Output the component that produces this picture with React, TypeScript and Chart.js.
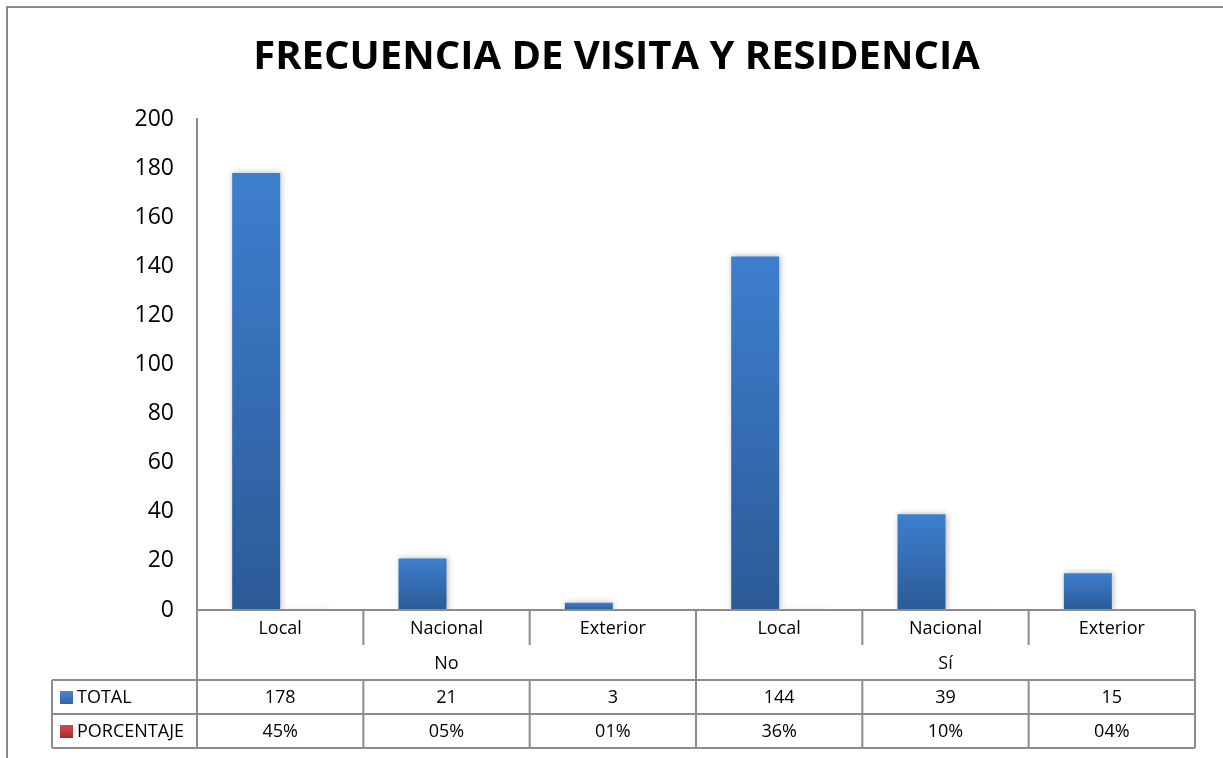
import React, { useEffect, useRef } from "react";
import { Chart, registerables } from "chart.js";

Chart.register(...registerables);

const TITLE = "FRECUENCIA DE VISITA Y RESIDENCIA";
const subCategories = ["Local", "Nacional", "Exterior", "Local", "Nacional", "Exterior"];
const groupLabels = ["No", "Sí"];
const groupSizes = [3, 3];
const totalValues = [178, 21, 3, 144, 39, 15];
const percentValues = [0.45, 0.05, 0.01, 0.36, 0.1, 0.04];
const percentLabels = ["45%", "05%", "01%", "36%", "10%", "04%"];
const seriesNames = ["TOTAL", "PORCENTAJE"];
const yTicks = { min: 0, max: 200, step: 20 };

const FONT = "'Open Sans', 'Noto Sans', sans-serif";
const LINE = "#8c8c8c";

function gradientFill(top: string, bottom: string) {
  return (ctx: any) => {
    const chart = ctx.chart;
    const { chartArea, scales } = chart;
    if (!chartArea || ctx.type !== "data" || !scales.y) return top;
    const v = ctx.raw as number;
    const yTop = scales.y.getPixelForValue(v);
    const yBot = scales.y.getPixelForValue(0);
    if (!isFinite(yTop) || !isFinite(yBot) || Math.abs(yBot - yTop) < 3) return bottom;
    const g = chart.ctx.createLinearGradient(0, yTop, 0, yBot);
    g.addColorStop(0, top);
    g.addColorStop(1, bottom);
    return g;
  };
}

const shadowPlugin = {
  id: "barShadow",
  beforeDatasetsDraw(chart: any) {
    const c = chart.ctx;
    c.save();
    c.shadowColor = "rgba(0,0,0,0.28)";
    c.shadowBlur = 6;
    c.shadowOffsetX = 1;
    c.shadowOffsetY = 0;
  },
  afterDatasetsDraw(chart: any) {
    chart.ctx.restore();
  },
};

const tablePlugin = {
  id: "dataTable",
  afterDraw(chart: any) {
    const c = chart.ctx as CanvasRenderingContext2D;
    const area = chart.chartArea;
    const n = subCategories.length;
    const left = area.left;
    const right = area.right;
    const cw = (right - left) / n;
    const y0 = area.bottom;
    const r1 = y0 + 35;
    const r2 = r1 + 35;
    const r3 = r2 + 34;
    const r4 = r3 + 34;
    const legendLeft = 52;

    c.save();
    // outer frame
    c.strokeStyle = "#8a8a8a";
    c.lineWidth = 2;
    c.beginPath();
    c.moveTo(7, chart.height);
    c.lineTo(7, 7);
    c.lineTo(chart.width, 7);
    c.stroke();

    // title
    c.fillStyle = "#000";
    c.textAlign = "center";
    c.textBaseline = "alphabetic";
    let size = 38;
    c.font = `bold ${size}px ${FONT}`;
    const w = c.measureText(TITLE).width;
    size = Math.min(40, (size * 748) / w);
    c.font = `bold ${size}px ${FONT}`;
    c.fillText(TITLE, 616.5, 69);

    // table lines
    c.strokeStyle = LINE;
    c.lineWidth = 2;
    c.beginPath();
    c.moveTo(left, y0);
    c.lineTo(right, y0);
    [r2, r3, r4].forEach((yy) => {
      c.moveTo(legendLeft, yy);
      c.lineTo(right, yy);
    });
    c.moveTo(legendLeft, r2);
    c.lineTo(legendLeft, r4);
    let idx = 0;
    const groupEdges = new Set<number>([0]);
    groupSizes.forEach((s) => {
      idx += s;
      groupEdges.add(idx);
    });
    for (let k = 0; k <= n; k++) {
      const x = left + k * cw;
      if (groupEdges.has(k)) {
        c.moveTo(x, k === 0 ? area.top : y0);
        c.lineTo(x, r4);
      } else {
        c.moveTo(x, y0);
        c.lineTo(x, r1);
        c.moveTo(x, r2);
        c.lineTo(x, r4);
      }
    }
    c.stroke();

    // texts
    c.fillStyle = "#000";
    c.font = `18px ${FONT}`;
    c.textAlign = "center";
    c.textBaseline = "middle";
    for (let i = 0; i < n; i++) {
      const cx = left + (i + 0.5) * cw;
      c.fillText(subCategories[i], cx, (y0 + r1) / 2 + 1);
      c.fillText(String(totalValues[i]), cx, (r2 + r3) / 2 + 1);
      c.fillText(percentLabels[i], cx, (r3 + r4) / 2 + 1);
    }
    let start = 0;
    groupLabels.forEach((g, gi) => {
      const s = groupSizes[gi];
      const cx = left + (start + s / 2) * cw;
      c.fillText(g, cx, (r1 + r2) / 2 + 1);
      start += s;
    });

    // legend keys
    const keys = [
      ["#4a86d0", "#2e62a6"],
      ["#d64a4a", "#a82a2a"],
    ];
    const rows = [(r2 + r3) / 2, (r3 + r4) / 2];
    seriesNames.forEach((name, i) => {
      const cy = rows[i];
      const g = c.createLinearGradient(0, cy - 6, 0, cy + 7);
      g.addColorStop(0, keys[i][0]);
      g.addColorStop(1, keys[i][1]);
      c.fillStyle = g;
      c.fillRect(60, cy - 6, 13, 13);
      c.fillStyle = "#000";
      c.textAlign = "left";
      c.fillText(name, 77, cy + 1);
    });
    c.restore();
  },
};

export default function App() {
  const ref = useRef<HTMLCanvasElement | null>(null);
  useEffect(() => {
    if (!ref.current) return;
    const chart = new Chart(ref.current, {
      type: "bar",
      data: {
        labels: subCategories,
        datasets: [
          {
            label: seriesNames[0],
            data: totalValues,
            backgroundColor: gradientFill("#3d7fcf", "#2c5a96"),
            borderWidth: 0,
          },
          {
            label: seriesNames[1],
            data: percentValues,
            backgroundColor: gradientFill("#c94545", "#b03535"),
            borderWidth: 0,
          },
        ],
      },
      options: {
        responsive: false,
        devicePixelRatio: 1,
        animation: false,
        layout: { padding: { left: 0, top: 119, right: 28, bottom: 148 } },
        datasets: {
          bar: { categoryPercentage: 0.577, barPercentage: 1 },
        },
        plugins: {
          legend: { display: false },
          tooltip: { enabled: false },
          title: { display: false },
        },
        scales: {
          x: { display: false },
          y: {
            min: yTicks.min,
            max: yTicks.max,
            afterFit: (s: any) => {
              s.width = 197;
            },
            grid: { display: false },
            border: { display: true, color: LINE, width: 2 },
            ticks: {
              stepSize: yTicks.step,
              padding: 15,
              color: "#000",
              font: { family: FONT, size: 23 },
            },
          },
        },
      },
      plugins: [shadowPlugin, tablePlugin],
    });
    return () => chart.destroy();
  }, []);
  return (
    <div style={{ position: "absolute", left: 0, top: 0, width: 1223, height: 758, background: "#fff" }}>
      <canvas ref={ref} width={1223} height={758} style={{ width: 1223, height: 758, display: "block" }} />
    </div>
  );
}
